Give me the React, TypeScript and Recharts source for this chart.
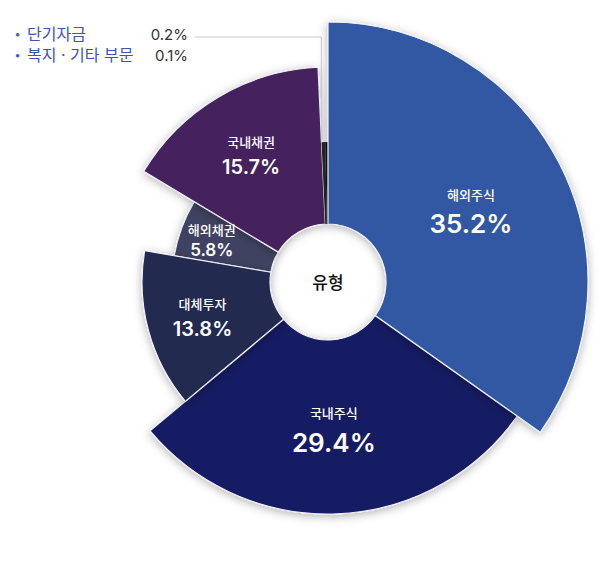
import React from 'react';
import { PieChart, Pie, Cell } from 'recharts';

// ---- data ----
const categories = ['해외주식', '국내주식', '대체투자', '해외채권', '국내채권', '단기자금', '복지 · 기타 부문'];
const shares = [35.2, 29.4, 13.8, 5.8, 15.7, 0.2, 0.1];
const centerTitle = '유형';
const legendIdx = [5, 6];

// ---- styles ----
const COLORS = ['#3158a3', '#161b63', '#222b4f', '#3f4262', '#44235d', '#262626', '#0e0e0e'];
const RADII = [260, 232, 186, 156, 215, 140, 140];
const LABEL_R = [161, 145, 130, 124, 150];
const PCT_SIZE = [26, 26, 20, 17, 20];
const GAP = [27, 27, 23, 18, 23];
const DRAW_ORDER = [1, 3, 2, 4, 5, 6, 0];
const CX = 323;
const CY = 277;
const INNER = 58;
const FONT = "Inter, 'Noto Sans CJK KR', sans-serif";
const RAD = Math.PI / 180;

const data = categories.map((name, i) => ({ name, value: shares[i] }));

const renderLabel = (props: any) => {
  const { cx, cy, midAngle, index } = props;
  if (index < 5) {
    const r = LABEL_R[index];
    const x = cx + r * Math.cos(-midAngle * RAD);
    const y = cy + r * Math.sin(-midAngle * RAD);
    const g = GAP[index];
    return (
      <g key={`lbl-${index}`}>
        <text x={x} y={y - g / 2} textAnchor="middle" dominantBaseline="central"
          fill="#ffffff" fontSize={13} fontWeight={500} fontFamily={FONT}>
          {categories[index]}
        </text>
        <text x={x} y={y + g / 2 + 2} textAnchor="middle" dominantBaseline="central"
          fill="#ffffff" fontSize={PCT_SIZE[index]} fontWeight={600} fontFamily={FONT}>
          {`${shares[index].toFixed(1)}%`}
        </text>
      </g>
    );
  }
  if (index === 5) {
    const r = RADII[5];
    const x0 = cx + r * Math.cos(-midAngle * RAD) - 2;
    const y0 = cy + r * Math.sin(-midAngle * RAD);
    const topY = cy - 245;
    return (
      <path key="leader" d={`M${x0},${y0} L${x0},${topY} L195,${topY}`}
        fill="none" stroke="#c8c8c8" strokeWidth={1} />
    );
  }
  return (
    <text key="center" x={cx} y={cy + 1} textAnchor="middle" dominantBaseline="central"
      fill="#111" fontSize={17} fontWeight={500} fontFamily={FONT}>
      {centerTitle}
    </text>
  );
};

export default function App() {
  return (
    <div style={{ position: 'absolute', left: 0, top: 0, width: 600, height: 575, background: '#fff' }}>
      <PieChart width={600} height={575}>
        <defs>
          <filter id="sliceShadow" x="-30%" y="-30%" width="160%" height="160%">
            <feDropShadow dx="0" dy="2" stdDeviation="5" floodColor="#000" floodOpacity="0.3" />
          </filter>
        </defs>
        {DRAW_ORDER.map((si, k) => (
          <Pie
            key={`pie-${si}`}
            data={data}
            dataKey="value"
            nameKey="name"
            cx={CX}
            cy={CY}
            innerRadius={INNER}
            outerRadius={RADII[si]}
            startAngle={90}
            endAngle={-270}
            minAngle={0.8}
            isAnimationActive={false}
            label={k === DRAW_ORDER.length - 1 ? renderLabel : false}
            labelLine={false}
          >
            {data.map((d, j) => (
              <Cell
                key={`c-${si}-${j}`}
                fill={j === si ? COLORS[si] : 'transparent'}
                stroke={j === si && si < 5 ? '#eef0f6' : 'none'}
                strokeWidth={1.2}
                filter={j === si && si < 5 ? 'url(#sliceShadow)' : undefined}
              />
            ))}
          </Pie>
        ))}
      </PieChart>
      {legendIdx.map((idx, row) => (
        <div key={`leg-${idx}`} style={{
          position: 'absolute', left: 8, top: 24 + row * 21, width: 180, height: 21,
          fontFamily: FONT, fontSize: 16, lineHeight: '21px', display: 'flex',
        }}>
          <span style={{ color: '#4a5dbd', width: 19, textAlign: 'center', fontSize: 11 }}>•</span>
          <span style={{ color: '#3f51b5', flex: 1 }}>{categories[idx]}</span>
          <span style={{ color: '#333', fontSize: 15 }}>{`${shares[idx].toFixed(1)}%`}</span>
        </div>
      ))}
    </div>
  );
}
